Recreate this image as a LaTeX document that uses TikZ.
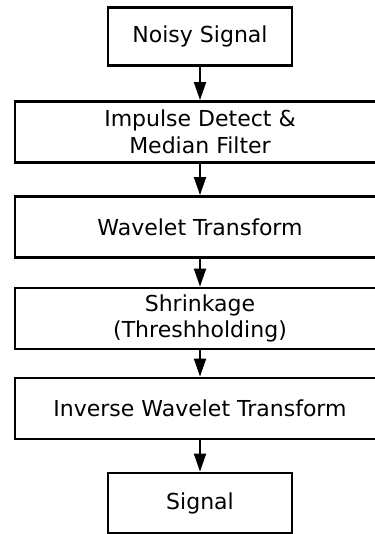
\documentclass[tikz,border=0pt]{standalone}
\usepackage{fontspec}
\setmainfont{DejaVu Sans}
\usetikzlibrary{arrows.meta, positioning}

\begin{document}
\begin{tikzpicture}[x=1pt, y=-1pt,
    block/.style={
        draw, line width=2.8pt, inner sep=0pt,
        minimum width=184pt, minimum height=58pt,
        font=\fontsize{22}{26.5}\selectfont, align=center
    },
    widebox/.style={block, minimum width=370pt, minimum height=61pt},
    arrow/.style={-{Triangle[length=18pt, width=12pt]}, line width=1.9pt}
]
\useasboundingbox (0,0) rectangle (374,534);

% Blocks
\node[block] (noisy) at (200,36.5) {Noisy Signal};
\node[widebox] (median) at (200,132) {Impulse Detect \&\\Median Filter};
\node[widebox] (wt) at (200,227) {Wavelet Transform};
\node[widebox] (shrink) at (200,318.5) {Shrinkage\\(Threshholding)};
\node[widebox] (iwt) at (200,408.5) {Inverse Wavelet Transform};
\node[block, minimum height=60pt] (signal) at (200,503) {Signal};

% Arrows
\draw[arrow] (noisy) -- (median);
\draw[arrow] (median) -- (wt);
\draw[arrow] (wt) -- (shrink);
\draw[arrow] (shrink) -- (iwt);
\draw[arrow] (iwt) -- (signal);

\end{tikzpicture}
\end{document}
